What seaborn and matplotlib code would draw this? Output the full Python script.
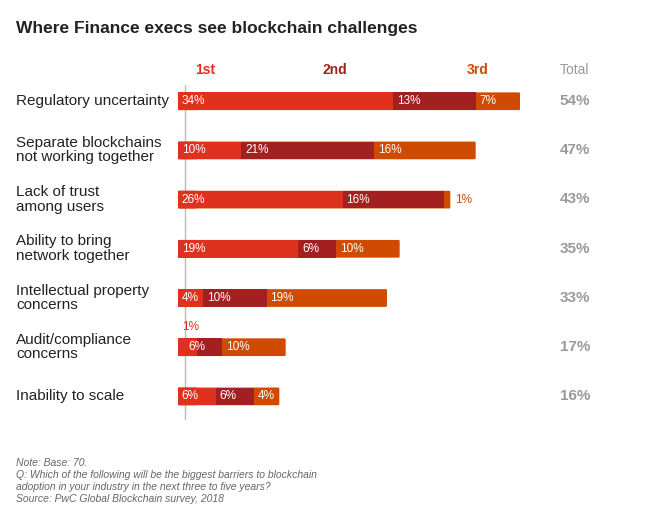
import matplotlib
matplotlib.use("Agg")
import matplotlib.pyplot as plt
import seaborn as sns
import pandas as pd
import numpy as np
from matplotlib.patches import FancyBboxPatch

categories = ["Regulatory uncertainty", "Separate blockchains\nnot working together",
              "Lack of trust\namong users", "Ability to bring\nnetwork together",
              "Intellectual property\nconcerns", "Audit/compliance\nconcerns", "Inability to scale"]
first = [34, 10, 26, 19, 4, 1, 6]
second = [13, 21, 16, 6, 10, 6, 6]
third = [7, 16, 1, 10, 19, 10, 4]
totals = [54, 47, 43, 35, 33, 17, 16]

c1, c2, c3 = "#E0301E", "#A32020", "#D04A02"
sns.set_theme(style="white")
plt.rcParams['font.family'] = ['Liberation Sans', 'DejaVu Sans']

fig = plt.figure(figsize=(6.5, 5.3), dpi=100)
W, H = 650, 530
ax = fig.add_axes([178/W, 1-420/H, 380/W, 335/H])
ax.set_xlim(0, 60)
ax.set_ylim(6.48, -0.33)

df = pd.DataFrame({"cat": categories,
                   "s1": np.array(first),
                   "s12": np.array(first) + np.array(second),
                   "s123": np.array(first) + np.array(second) + np.array(third)})
sns.barplot(data=df, x="s123", y="cat", orient="h", color=c3, width=0.36,
            saturation=1, ax=ax, linewidth=0)
# round the outer ends
px_per_x = 380/60
px_per_y = 335/6.81
for p in list(ax.patches):
    x0, y0, w, h = p.get_x(), p.get_y(), p.get_width(), p.get_height()
    r = h * 0.5
    fb = FancyBboxPatch((x0, y0), w, h, boxstyle=f"round,pad=0,rounding_size={r}",
                        mutation_aspect=px_per_x/px_per_y, fc=c3, ec="none", zorder=2)
    p.remove()
    ax.add_patch(fb)
for col, c in [("s12", c2), ("s1", c1)]:
    sns.barplot(data=df, x=col, y="cat", orient="h", color=c, width=0.36,
                saturation=1, ax=ax, linewidth=0, zorder=3)
# round left ends: small circles for start
for i in range(len(categories)):
    ax.add_patch(FancyBboxPatch((0, i - 0.18), 3, 0.36,
                 boxstyle="round,pad=0,rounding_size=0.18",
                 mutation_aspect=px_per_x/px_per_y, fc=c1, ec="none", zorder=3.5))
ax.set_xlim(0, 60)
ax.set_ylim(6.48, -0.33)
ax.axis("off")
ax.axvline(1.1, color="#bbbbbb", lw=1, zorder=1)

for i in range(len(categories)):
    starts = [0, first[i], first[i] + second[i]]
    vals = [first[i], second[i], third[i]]
    cols = [c1, c2, c3]
    for s, v, c in zip(starts, vals, cols):
        if v <= 1:
            if s == 0:
                ax.text(s + 0.6, i - 0.42, f"{v}%", color=c, fontsize=8.5, va="center", ha="left")
            else:
                ax.text(s + v + 0.8, i, f"{v}%", color=c, fontsize=8.5, va="center", ha="left")
        else:
            ax.text(s + 0.6, i, f"{v}%", color="white", fontsize=8.5, va="center", ha="left",
                    zorder=5)
    fig.text(16/W, 1-(101+49.2*i)/H, categories[i], fontsize=11, color="#222222",
             va="center", ha="left", linespacing=1.05)
    fig.text(575/W, 1-(101+49.2*i)/H, f"{totals[i]}%", fontsize=11, color="#999999",
             weight="bold", va="center", ha="center")

for x, t, c in [(205, "1st", c1), (335, "2nd", c2), (478, "3rd", c3)]:
    fig.text(x/W, 1-70/H, t, color=c, fontsize=10, weight="bold", ha="center", va="center")
fig.text(575/W, 1-70/H, "Total", color="#999999", fontsize=10, ha="center", va="center")

fig.text(16/W, 1-28/H, "Where Finance execs see blockchain challenges", fontsize=12.5,
         weight="bold", color="#222222", va="center")
notes = ("Note: Base: 70.\nQ: Which of the following will be the biggest barriers to blockchain\n"
         "adoption in your industry in the next three to five years?\nSource: PwC Global Blockchain survey, 2018")
fig.text(16/W, 1-458/H, notes, fontsize=7.5, style="italic", color="#666666", va="top",
         linespacing=1.25)
fig.savefig("out.png", dpi=100)
